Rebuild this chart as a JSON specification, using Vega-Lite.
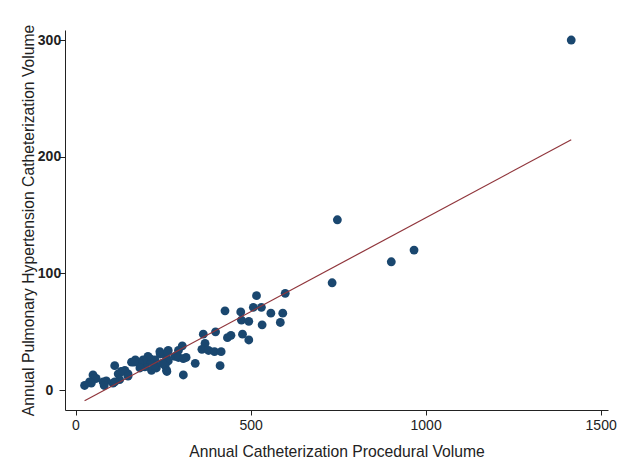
{
  "$schema": "https://vega.github.io/schema/vega-lite/v6.json",
  "width": 543,
  "height": 380,
  "autosize": {"type": "none"},
  "padding": {"left": 65, "top": 30, "right": 24, "bottom": 66},
  "background": "white",
  "config": {"view": {"stroke": null}, "font": "Liberation Sans"},
  "data": {
    "values": [
      {"cath": 1416, "pah": 300}, {"cath": 748, "pah": 146}, {"cath": 902, "pah": 110}, {"cath": 967, "pah": 120}, {"cath": 733, "pah": 92},
      {"cath": 599, "pah": 83}, {"cath": 517, "pah": 81}, {"cath": 508, "pah": 71}, {"cath": 531, "pah": 71}, {"cath": 427, "pah": 68},
      {"cath": 472, "pah": 67}, {"cath": 558, "pah": 66}, {"cath": 592, "pah": 66}, {"cath": 474, "pah": 60}, {"cath": 495, "pah": 59},
      {"cath": 533, "pah": 56}, {"cath": 585, "pah": 58},
      {"cath": 365, "pah": 48}, {"cath": 400, "pah": 50}, {"cath": 434, "pah": 45}, {"cath": 444, "pah": 47}, {"cath": 477, "pah": 48},
      {"cath": 495, "pah": 43}, {"cath": 370, "pah": 40}, {"cath": 361, "pah": 35}, {"cath": 380, "pah": 34}, {"cath": 397, "pah": 33},
      {"cath": 416, "pah": 33}, {"cath": 413, "pah": 21}, {"cath": 342, "pah": 23},
      {"cath": 308, "pah": 13}, {"cath": 305, "pah": 38}, {"cath": 316, "pah": 28}, {"cath": 294, "pah": 34}, {"cath": 284, "pah": 29},
      {"cath": 294, "pah": 28}, {"cath": 308, "pah": 27}, {"cath": 265, "pah": 34}, {"cath": 260, "pah": 28}, {"cath": 265, "pah": 25},
      {"cath": 256, "pah": 21}, {"cath": 242, "pah": 31}, {"cath": 241, "pah": 33}, {"cath": 227, "pah": 26}, {"cath": 213, "pah": 27},
      {"cath": 231, "pah": 19}, {"cath": 260, "pah": 17}, {"cath": 217, "pah": 17}, {"cath": 226, "pah": 21}, {"cath": 212, "pah": 24},
      {"cath": 198, "pah": 20}, {"cath": 207, "pah": 29}, {"cath": 193, "pah": 26}, {"cath": 183, "pah": 23}, {"cath": 171, "pah": 26},
      {"cath": 160, "pah": 24}, {"cath": 150, "pah": 14}, {"cath": 141, "pah": 17}, {"cath": 131, "pah": 16}, {"cath": 122, "pah": 14},
      {"cath": 112, "pah": 21}, {"cath": 107, "pah": 6}, {"cath": 126, "pah": 9}, {"cath": 112, "pah": 7}, {"cath": 88, "pah": 8},
      {"cath": 79, "pah": 7}, {"cath": 82, "pah": 4}, {"cath": 59, "pah": 10}, {"cath": 50, "pah": 13}, {"cath": 53, "pah": 10},
      {"cath": 40, "pah": 7}, {"cath": 45, "pah": 6}, {"cath": 26, "pah": 4}, {"cath": 184, "pah": 19}, {"cath": 134, "pah": 16},
      {"cath": 150, "pah": 12}, {"cath": 167, "pah": 24}, {"cath": 248, "pah": 23}, {"cath": 263, "pah": 33}, {"cath": 261, "pah": 16}
    ]
  },
  "layer": [
    {
      "mark": {"type": "circle", "size": 78, "color": "#1a476f", "opacity": 1},
      "encoding": {
        "x": {
          "field": "cath", "type": "quantitative",
          "scale": {"domain": [-30, 1521], "nice": false, "zero": false},
          "axis": {
            "title": "Annual Catheterization Procedural Volume",
            "values": [0, 500, 1000, 1500], "format": "d", "grid": false,
            "labelFontSize": 14, "labelColor": "#222", "labelPadding": 3,
            "tickSize": 5, "tickColor": "#222", "domainColor": "#222",
            "titleFontSize": 15.7, "titleFontWeight": "normal", "titleColor": "#222", "titlePadding": 12
          }
        },
        "y": {
          "field": "pah", "type": "quantitative",
          "scale": {"domain": [-17, 308.6], "nice": false, "zero": false},
          "axis": {
            "title": "Annual Pulmonary Hypertension Catheterization Volume",
            "values": [0, 100, 200, 300], "format": "d", "grid": false,
            "labelFontSize": 14, "labelFontWeight": "bold", "labelColor": "#222",
            "labelAlign": "center", "labelBaseline": "middle", "labelPadding": 10,
            "tickSize": 6, "tickColor": "#222", "domainColor": "#222",
            "titleFontSize": 15.7, "titleFontWeight": "normal", "titleColor": "#222", "titlePadding": 1
          }
        }
      }
    },
    {
      "transform": [{"regression": "pah", "on": "cath"}],
      "mark": {"type": "line", "color": "#90353b", "strokeWidth": 1.2},
      "encoding": {
        "x": {"field": "cath", "type": "quantitative"},
        "y": {"field": "pah", "type": "quantitative"}
      }
    }
  ]
}
